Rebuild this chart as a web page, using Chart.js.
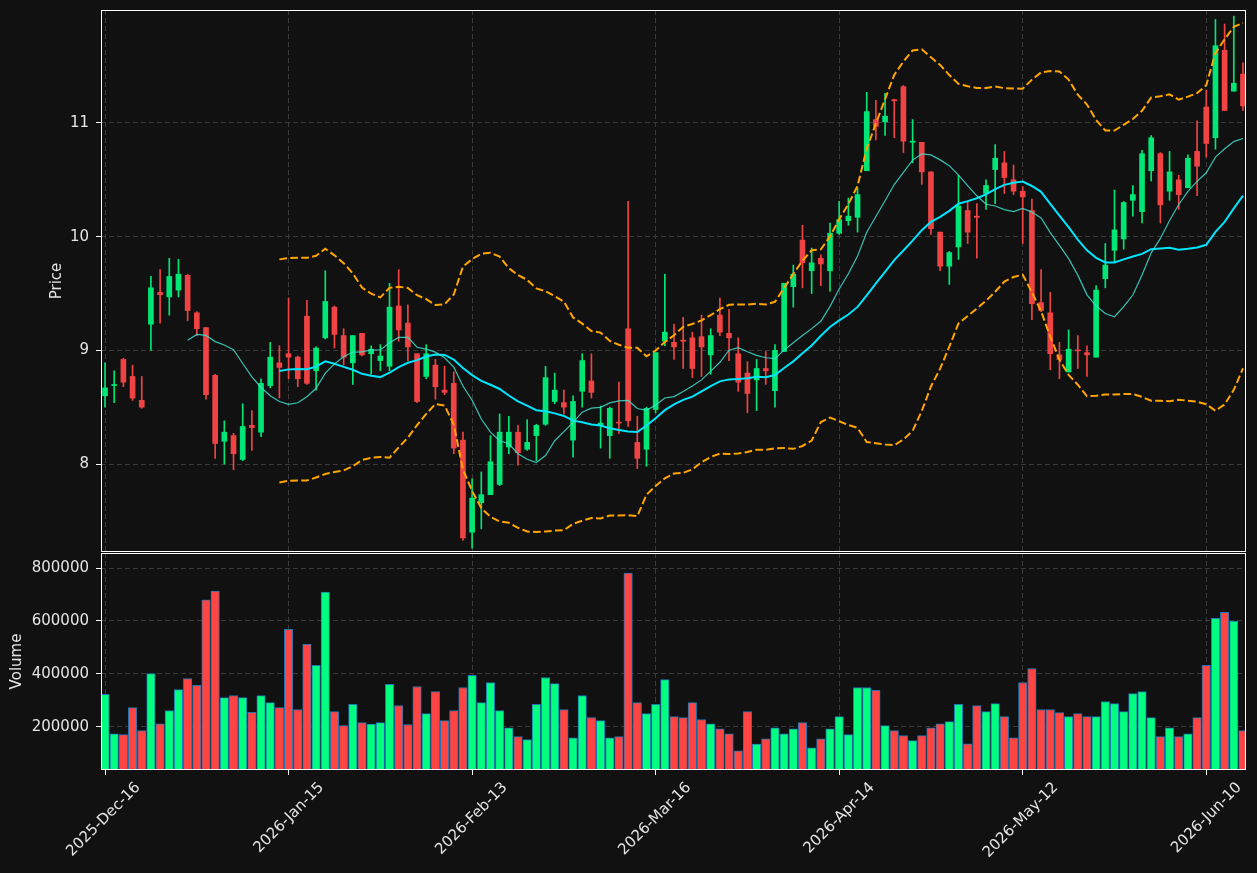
<!DOCTYPE html>
<html>
<head>
<meta charset="utf-8">
<script src="https://cdn.jsdelivr.net/npm/chart.js@4.4.1/dist/chart.umd.min.js"></script>
<style>
    html, body { margin: 0; padding: 0; background: #111111; }
    #wrap { position: relative; width: 1257px; height: 873px; }
    #price { position: absolute; left: 0; top: 0; }
    #volume { position: absolute; left: 0; top: 553px; }
</style>
</head>
<body>
<div id="wrap">
    <canvas id="price" width="1257" height="553"></canvas>
    <canvas id="volume" width="1257" height="320"></canvas>
</div>
<script>
// Trading days on the chart (month -> days)
var tradingDays = [
    ['2025-Dec', [16, 17, 18, 19, 22, 23, 24, 26, 29, 30, 31]],
    ['2026-Jan', [2, 5, 6, 7, 8, 9, 12, 13, 14, 15, 16, 20, 21, 22, 23, 26, 27, 28, 29, 30]],
    ['2026-Feb', [2, 3, 4, 5, 6, 9, 10, 11, 12, 13, 17, 18, 19, 20, 23, 24, 25, 26, 27]],
    ['2026-Mar', [2, 3, 4, 5, 6, 9, 10, 11, 12, 13, 16, 17, 18, 19, 20, 23, 24, 25, 26, 27, 30, 31]],
    ['2026-Apr', [1, 2, 6, 7, 8, 9, 10, 13, 14, 15, 16, 17, 20, 21, 22, 23, 24, 27, 28, 29, 30]],
    ['2026-May', [1, 4, 5, 6, 7, 8, 11, 12, 13, 14, 15, 18, 19, 20, 21, 22, 26, 27, 28, 29]],
    ['2026-Jun', [1, 2, 3, 4, 5, 8, 9, 10, 11, 12, 15, 16]]
];

var opens = [8.60, 8.69, 8.92, 8.77, 8.56, 9.23, 9.51, 9.47, 9.53, 9.66,
    9.33, 9.20, 8.78, 8.20, 8.25, 8.04, 8.34, 8.28, 8.69, 8.89,
    8.97, 8.94, 9.30, 8.82, 9.11, 9.38, 9.13, 8.89, 9.15, 8.97,
    8.91, 8.86, 9.39, 9.24, 8.97, 8.77, 8.87, 8.65, 8.71, 8.21,
    7.40, 7.66, 7.73, 7.82, 8.15, 8.28, 8.13, 8.25, 8.35, 8.55,
    8.54, 8.21, 8.64, 8.73, 8.34, 8.25, 8.365, 9.19, 8.19, 8.13,
    8.48, 9.08, 9.07, 9.09, 9.11, 9.12, 8.96, 9.31, 9.15, 8.97,
    8.80, 8.74, 8.84, 8.645, 8.99, 9.56, 9.97, 9.70, 9.81, 9.70,
    10.03, 10.14, 10.17, 10.58, 11.03, 11.01, 11.205, 11.32, 10.83, 10.83,
    10.57, 10.04, 9.74, 9.91, 10.23, 10.18, 10.38, 10.59, 10.65, 10.50,
    10.40, 10.23, 9.42, 9.33, 8.96, 8.81, 9.00, 8.98, 8.94, 9.63,
    9.88, 9.98, 10.32, 10.22, 10.58, 10.73, 10.40, 10.50, 10.43, 10.75,
    11.14, 10.87, 11.64, 11.28, 11.43];

var highs = [8.89, 8.82, 8.93, 8.87, 8.77, 9.65, 9.71, 9.81, 9.80, 9.67,
    9.34, 9.20, 8.79, 8.38, 8.27, 8.53, 8.47, 8.75, 9.07, 9.04,
    9.46, 8.95, 9.44, 9.03, 9.70, 9.39, 9.19, 9.13, 9.15, 9.04,
    9.05, 9.59, 9.71, 9.40, 8.97, 9.05, 8.92, 8.86, 8.81, 8.28,
    7.87, 7.93, 8.25, 8.44, 8.42, 8.34, 8.39, 8.35, 8.86, 8.80,
    8.65, 8.60, 8.97, 8.97, 8.51, 8.50, 8.72, 10.31, 8.42, 8.50,
    8.98, 9.67, 9.23, 9.29, 9.16, 9.31, 9.19, 9.46, 9.36, 9.11,
    8.90, 8.92, 8.99, 9.05, 9.59, 9.75, 10.10, 9.90, 9.84, 10.12,
    10.31, 10.34, 10.43, 11.27, 11.20, 11.26, 11.21, 11.33, 11.03, 10.83,
    10.57, 10.04, 9.87, 10.54, 10.31, 10.29, 10.50, 10.81, 10.75, 10.63,
    10.44, 10.33, 9.71, 9.51, 9.07, 9.18, 9.13, 9.04, 9.57, 9.94,
    10.41, 10.31, 10.45, 10.76, 10.89, 10.74, 10.75, 10.54, 10.72, 11.02,
    11.29, 11.91, 11.87, 11.94, 11.53];

var lows = [8.50, 8.54, 8.68, 8.56, 8.49, 9.00, 9.24, 9.31, 9.47, 9.26,
    9.13, 8.57, 8.05, 8.00, 7.95, 8.03, 8.12, 8.24, 8.67, 8.58,
    8.75, 8.68, 8.70, 8.65, 9.10, 9.02, 8.87, 8.70, 8.95, 8.79,
    8.82, 8.82, 9.08, 8.91, 8.54, 8.75, 8.57, 8.61, 8.09, 7.33,
    7.26, 7.43, 7.73, 7.81, 8.09, 7.99, 8.12, 8.03, 8.34, 8.53,
    8.44, 8.06, 8.50, 8.58, 8.14, 8.05, 8.27, 8.33, 7.96, 7.98,
    8.45, 9.04, 8.92, 8.84, 8.76, 8.77, 8.79, 9.13, 8.91, 8.64,
    8.45, 8.47, 8.70, 8.50, 8.99, 9.38, 9.55, 9.50, 9.57, 9.52,
    10.02, 10.10, 10.04, 10.58, 10.85, 10.89, 10.87, 10.74, 10.65, 10.46,
    10.02, 9.70, 9.58, 9.80, 9.94, 9.81, 10.24, 10.29, 10.38, 10.37,
    9.94, 9.27, 9.34, 8.83, 8.75, 8.81, 8.84, 8.77, 8.94, 9.55,
    9.77, 9.89, 10.18, 10.12, 10.49, 10.12, 10.32, 10.24, 10.43, 10.36,
    10.70, 10.77, 11.11, 11.28, 11.11];

var closes = [8.67, 8.70, 8.72, 8.58, 8.50, 9.55, 9.49, 9.65, 9.67, 9.35,
    9.19, 8.61, 8.18, 8.28, 8.09, 8.33, 8.32, 8.71, 8.94, 8.85,
    8.94, 8.75, 8.71, 9.02, 9.43, 9.14, 8.94, 9.13, 8.96, 9.01,
    8.95, 9.38, 9.18, 9.03, 8.55, 8.97, 8.68, 8.63, 8.14, 7.35,
    7.70, 7.73, 8.02, 8.28, 8.28, 8.10, 8.19, 8.34, 8.76, 8.65,
    8.50, 8.55, 8.91, 8.63, 8.36, 8.49, 8.36, 8.38, 8.05, 8.49,
    8.98, 9.16, 9.03, 9.08, 8.84, 9.03, 9.13, 9.16, 9.11, 8.72,
    8.62, 8.84, 8.82, 9.00, 9.59, 9.67, 9.77, 9.77, 9.76, 10.03,
    10.15, 10.18, 10.37, 11.10, 10.97, 11.06, 11.195, 10.84, 10.84, 10.57,
    10.07, 9.74, 9.86, 10.27, 10.04, 10.17, 10.45, 10.69, 10.52, 10.40,
    10.35, 9.41, 9.35, 8.97, 8.92, 9.01, 8.995, 8.96, 9.53, 9.75,
    10.06, 10.30, 10.37, 10.73, 10.87, 10.28, 10.57, 10.37, 10.69, 10.62,
    10.82, 11.68, 11.11, 11.35, 11.15];

var volumes = [322000, 173000, 170000, 272000, 185000, 401000, 211000, 261000, 340000, 382000,
    356000, 680000, 713000, 310000, 318000, 310000, 254000, 318000, 291000, 272000,
    568000, 265000, 511000, 432000, 709000, 257000, 204000, 284000, 215000, 210000,
    215000, 360000, 280000, 208000, 352000, 249000, 333000, 223000, 261000, 348000,
    394000, 291000, 367000, 261000, 196000, 162000, 151000, 284000, 386000, 363000,
    265000, 158000, 318000, 234000, 223000, 158000, 162000, 781000, 291000, 249000,
    284000, 378000, 238000, 234000, 291000, 227000, 211000, 192000, 173000, 109000,
    257000, 134000, 154000, 196000, 173000, 192000, 215000, 120000, 154000, 192000,
    238000, 170000, 348000, 348000, 337000, 204000, 185000, 166000, 147000, 166000,
    196000, 211000, 219000, 284000, 135000, 280000, 257000, 287000, 238000, 158000,
    367000, 420000, 265000, 265000, 253000, 238000, 249000, 238000, 238000, 295000,
    287000, 257000, 325000, 333000, 234000, 162000, 196000, 162000, 173000, 234000,
    432000, 610000, 633000, 599000, 185000];

var priceTicks = [8, 9, 10, 11];
var volumeTicks = [200000, 400000, 600000, 800000];
var dateTickIndex = [0, 20, 40, 60, 80, 100, 120];

var dates = [];
tradingDays.forEach(function (m) {
    m[1].forEach(function (d) {
        dates.push(m[0] + '-' + (d < 10 ? '0' + d : d));
    });
});

// moving averages and bollinger bands, computed from the closes like the source chart
function rollingMean(values, n) {
    return values.map(function (v, i) {
        if (i < n - 1) return null;
        var s = 0;
        for (var k = i - n + 1; k <= i; k++) s += values[k];
        return s / n;
    });
}

function rollingStd(values, n) {
    var mean = rollingMean(values, n);
    return values.map(function (v, i) {
        if (mean[i] === null) return null;
        var s = 0;
        for (var k = i - n + 1; k <= i; k++) s += Math.pow(values[k] - mean[i], 2);
        return Math.sqrt(s / n);
    });
}

var sma10 = rollingMean(closes, 10);
var sma20 = rollingMean(closes, 20);
var std20 = rollingStd(closes, 20);
var bbUpper = sma20.map(function (m, i) { return m === null ? null : m + 2 * std20[i]; });
var bbLower = sma20.map(function (m, i) { return m === null ? null : m - 2 * std20[i]; });

function points(series) {
    var out = [];
    series.forEach(function (v, i) {
        if (v !== null) out.push({ x: i, y: v });
    });
    return out;
}

var up = closes.map(function (c, i) { return c >= opens[i]; });
var candleColors = up.map(function (u) { return u ? '#00e676' : '#f04444'; });
var volumeColors = up.map(function (u) { return u ? '#00ff80' : '#ff4444'; });

var bodies = opens.map(function (o, i) { return { x: i, y: [o, closes[i]] }; });
var wicks = lows.map(function (l, i) { return { x: i, y: [l, highs[i]] }; });
var volumeBars = volumes.map(function (v, i) { return { x: i, y: v }; });

Chart.defaults.font.family = "'DejaVu Sans', sans-serif";
Chart.defaults.font.size = 15;
Chart.defaults.color = '#e4e4e4';

var gridColor = '#3a3a3a';

var frame = {
    id: 'frame',
    afterDraw: function (chart) {
        var a = chart.chartArea;
        var ctx = chart.ctx;
        ctx.save();
        ctx.strokeStyle = '#ffffff';
        ctx.lineWidth = 1;
        ctx.strokeRect(a.left + 0.5, a.top + 0.5, a.right - a.left - 1, a.bottom - a.top - 1);
        ctx.restore();
    }
};

function setDateTicks(scale) {
    scale.ticks = dateTickIndex.map(function (v) { return { value: v }; });
}

// keep the plot areas fixed, no extra room for label overhang
function fixWidth(s) {
    s.width = 101;
    s.paddingTop = 0;
    s.paddingBottom = 0;
}

var xRange = { min: -0.44, max: 124.33 };

new Chart(document.getElementById('price'), {
    type: 'bar',
    data: {
        datasets: [
            { type: 'line', data: points(sma10), borderColor: 'rgba(64, 224, 208, 0.85)', borderWidth: 1.2, pointRadius: 0, tension: 0, order: 0 },
            { type: 'line', data: points(sma20), borderColor: '#00e5ff', borderWidth: 2, pointRadius: 0, tension: 0, order: 0 },
            { type: 'line', data: points(bbUpper), borderColor: '#ffa500', borderWidth: 2, borderDash: [7.7, 3.3], pointRadius: 0, tension: 0, order: 0 },
            { type: 'line', data: points(bbLower), borderColor: '#ffa500', borderWidth: 2, borderDash: [7.7, 3.3], pointRadius: 0, tension: 0, order: 0 },
            { data: bodies, backgroundColor: candleColors, barThickness: 5, minBarLength: 1, grouped: false, order: 1 },
            { data: wicks, backgroundColor: candleColors, barThickness: 1, grouped: false, order: 2 }
        ]
    },
    options: {
        responsive: false,
        animation: false,
        events: [],
        layout: { padding: { top: 10, right: 11, bottom: 1, left: 0 } },
        plugins: { legend: { display: false }, tooltip: { enabled: false } },
        scales: {
            x: {
                type: 'linear', min: xRange.min, max: xRange.max, offset: false,
                afterBuildTicks: setDateTicks,
                afterFit: function (s) { s.height = 0; s.paddingLeft = 0; s.paddingRight = 0; },
                ticks: { display: false },
                grid: { color: gridColor, drawTicks: false, offset: false },
                border: { display: false, dash: [5, 3] }
            },
            y: {
                min: 7.226, max: 11.994,
                afterBuildTicks: function (s) { s.ticks = priceTicks.map(function (v) { return { value: v }; }); },
                afterFit: fixWidth,
                ticks: { padding: 7 },
                grid: { color: gridColor, tickColor: '#ffffff', tickLength: 5 },
                border: { display: false, dash: [5, 3] },
                title: { display: true, text: 'Price', padding: { top: 48, bottom: 0 } }
            }
        }
    },
    plugins: [frame]
});

new Chart(document.getElementById('volume'), {
    type: 'bar',
    data: {
        datasets: [
            { data: volumeBars, backgroundColor: volumeColors, borderColor: '#1f77b4', borderWidth: 1, barThickness: 8.5 }
        ]
    },
    options: {
        responsive: false,
        animation: false,
        events: [],
        layout: { padding: { top: 0, right: 11, bottom: 0, left: 0 } },
        plugins: { legend: { display: false }, tooltip: { enabled: false } },
        scales: {
            x: {
                type: 'linear', min: xRange.min, max: xRange.max, offset: false,
                afterBuildTicks: setDateTicks,
                afterFit: function (s) { s.height = 103; s.paddingLeft = 0; s.paddingRight = 0; },
                ticks: {
                    autoSkip: false, maxRotation: 45, minRotation: 45, padding: 4, labelOffset: 33,
                    callback: function (value) { return dates[value]; }
                },
                grid: { color: gridColor, tickColor: '#ffffff', tickLength: 5, offset: false },
                border: { display: false, dash: [5, 3] }
            },
            y: {
                min: 36000, max: 857000,
                afterBuildTicks: function (s) { s.ticks = volumeTicks.map(function (v) { return { value: v }; }); },
                afterFit: fixWidth,
                ticks: { padding: 7, callback: function (value) { return String(value); } },
                grid: { color: gridColor, tickColor: '#ffffff', tickLength: 5 },
                border: { display: false, dash: [5, 3] },
                title: { display: true, text: 'Volume', padding: { top: 8, bottom: 0 } }
            }
        }
    },
    plugins: [frame]
});
</script>
</body>
</html>
